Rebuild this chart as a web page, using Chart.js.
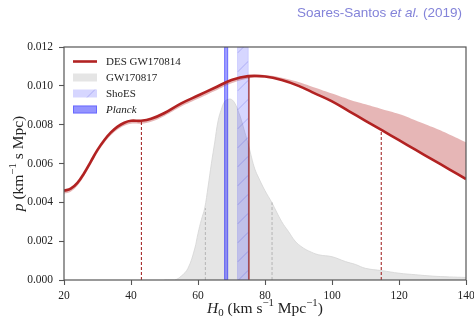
<!DOCTYPE html>
<html>
<head>
<meta charset="utf-8">
<script src="https://cdn.jsdelivr.net/npm/chart.js@4.4.1/dist/chart.umd.min.js"></script>
<style>
  html, body { margin: 0; padding: 0; background: #fff; }
</style>
</head>
<body>
<canvas id="h0Chart" width="474" height="322"></canvas>
<script>
// H0 grid and DES GW170814 posterior (median curve + band)
const h0Grid = [20, 22, 24, 26, 28, 30, 32, 34, 36, 38, 40, 43, 46, 50, 55, 60, 65, 70, 75, 80, 85, 90, 95, 100, 105, 110, 115, 120, 125, 130, 135, 140];
const desMedian = [0.0046, 0.0047, 0.0050, 0.0055, 0.0061, 0.0067, 0.0072, 0.0076, 0.0079, 0.0081, 0.0082, 0.0082, 0.0083, 0.0086, 0.0091, 0.0095, 0.0099, 0.0103, 0.0105, 0.01048, 0.0103, 0.0100, 0.0096, 0.0092, 0.0087, 0.0082, 0.0077, 0.0072, 0.0067, 0.0062, 0.0057, 0.0052];
const desLow = [0.00445, 0.00455, 0.00485, 0.00535, 0.00595, 0.00655, 0.00705, 0.00745, 0.00775, 0.00795, 0.00805, 0.00805, 0.00815, 0.00845, 0.00893, 0.00933, 0.00973, 0.01013, 0.01038, 0.01046, 0.01030, 0.01000, 0.00960, 0.00920, 0.00870, 0.00820, 0.00770, 0.00720, 0.00670, 0.00620, 0.00570, 0.00520];
const desHigh = [0.00462, 0.00472, 0.00502, 0.00552, 0.00612, 0.00672, 0.00722, 0.00762, 0.00792, 0.00812, 0.00822, 0.00822, 0.00832, 0.00862, 0.00912, 0.00952, 0.00992, 0.01032, 0.01052, 0.01056, 0.01042, 0.01020, 0.00990, 0.00960, 0.00930, 0.00905, 0.00880, 0.00855, 0.00822, 0.00788, 0.00750, 0.00710];

// GW170817 posterior
const gwX = [50, 53, 55, 57, 59, 60, 61, 62, 63, 64, 65, 66, 67, 68, 69, 70, 71, 72, 73, 74, 75, 76, 77, 78, 80, 82, 85, 87, 89, 91, 93, 96, 100, 104, 107, 110, 115, 120, 125, 130, 135, 140];
const gwP = [0, 0, 0.0002, 0.0006, 0.0016, 0.0024, 0.0031, 0.0037, 0.0048, 0.0060, 0.0071, 0.0082, 0.0088, 0.0092, 0.0093, 0.0093, 0.0091, 0.0087, 0.0082, 0.0076, 0.0070, 0.0063, 0.0057, 0.0053, 0.0046, 0.0040, 0.0030, 0.0025, 0.0020, 0.0017, 0.0015, 0.0013, 0.0012, 0.00095, 0.0008, 0.0006, 0.00048, 0.00035, 0.00027, 0.0002, 0.00016, 0.00013];

// credible interval markers
const desCredX = [43.1, 114.7];
const desCredTop = [0.0082, 0.0077];
const desPeakX = 75.2;
const desPeakTop = 0.0105;
const gwCredX = [62.2, 82.1];
const gwCredTop = [0.0037, 0.0040];

// other measurements (H0 ranges)
const planckRange = [67.8, 69.0];
const shoesRange = [71.8, 75.0];

const legendLabels = ['DES GW170814', 'GW170817', 'ShoES', 'Planck'];
const xTicks = [20, 40, 60, 80, 100, 120, 140];
const yTicks = [0, 0.002, 0.004, 0.006, 0.008, 0.010, 0.012];

const RED = '#b22222';
const SERIF = '"Liberation Serif", "DejaVu Serif", serif';

const pts = (xs, ys) => xs.map((x, i) => ({ x: x, y: ys[i] }));
const vline = (x, top) => [{ x: x, y: 0 }, { x: x, y: top }];

// draw text made of pieces (italic / sub / sup)
function richWidth(ctx, parts, size) {
    let w = 0;
    parts.forEach(p => {
        const s = (p.sub || p.sup) ? size * 0.7 : size;
        ctx.font = (p.it ? 'italic ' : '') + s + 'px ' + SERIF;
        w += ctx.measureText(p.t).width;
    });
    return w;
}
function drawRich(ctx, parts, x, y, size) {
    let cx = x - richWidth(ctx, parts, size) / 2;
    parts.forEach(p => {
        const s = (p.sub || p.sup) ? size * 0.7 : size;
        ctx.font = (p.it ? 'italic ' : '') + s + 'px ' + SERIF;
        let dy = 0;
        if (p.sub) dy = size * 0.22;
        if (p.sup) dy = -size * 0.42;
        ctx.fillText(p.t, cx, y + dy);
        cx += ctx.measureText(p.t).width;
    });
}

const bandsPlugin = {
    id: 'bands',
    afterDatasetDraw(chart, args) {
        if (args.index !== 0) return;
        const { ctx, chartArea: a, scales: { x } } = chart;
        ctx.save();
        ctx.beginPath();
        ctx.rect(a.left, a.top, a.right - a.left, a.bottom - a.top);
        ctx.clip();
        // ShoES band with hatch
        let x0 = x.getPixelForValue(shoesRange[0]);
        let x1 = x.getPixelForValue(shoesRange[1]);
        ctx.fillStyle = 'rgba(0,0,255,0.16)';
        ctx.fillRect(x0, a.top, x1 - x0, a.bottom - a.top);
        ctx.save();
        ctx.beginPath();
        ctx.rect(x0, a.top, x1 - x0, a.bottom - a.top);
        ctx.clip();
        ctx.strokeStyle = 'rgba(60,60,220,0.35)';
        ctx.lineWidth = 0.8;
        for (let yy = a.bottom + 20; yy > a.top - 20; yy -= 19) {
            ctx.beginPath();
            ctx.moveTo(x0, yy);
            ctx.lineTo(x1, yy - (x1 - x0));
            ctx.stroke();
        }
        ctx.restore();
        ctx.strokeStyle = 'rgba(0,0,255,0.12)';
        ctx.lineWidth = 1;
        ctx.strokeRect(x0, a.top, x1 - x0, a.bottom - a.top);
        // Planck band
        x0 = x.getPixelForValue(planckRange[0]);
        x1 = x.getPixelForValue(planckRange[1]);
        ctx.fillStyle = 'rgba(0,0,255,0.38)';
        ctx.fillRect(x0, a.top, x1 - x0, a.bottom - a.top);
        ctx.strokeStyle = 'rgba(0,0,255,0.3)';
        ctx.strokeRect(x0 + 0.5, a.top, x1 - x0 - 1, a.bottom - a.top);
        ctx.restore();
    }
};

const decorPlugin = {
    id: 'decor',
    afterDraw(chart) {
        const { ctx, chartArea: a } = chart;
        ctx.save();
        // frame
        ctx.strokeStyle = '#555';
        ctx.lineWidth = 1.2;
        ctx.strokeRect(a.left, a.top, a.right - a.left, a.bottom - a.top);

        // legend
        const lx = 73, lw = 24, tx = 106;
        const rows = [61.5, 77.5, 93.5, 109.5];
        ctx.strokeStyle = RED;
        ctx.lineWidth = 2.6;
        ctx.beginPath();
        ctx.moveTo(lx, rows[0]);
        ctx.lineTo(lx + lw, rows[0]);
        ctx.stroke();
        ctx.fillStyle = '#e5e5e5';
        ctx.fillRect(lx, rows[1] - 4, lw, 8);
        ctx.fillStyle = 'rgba(0,0,255,0.16)';
        ctx.fillRect(lx, rows[2] - 4, lw, 8);
        ctx.strokeStyle = 'rgba(60,60,220,0.35)';
        ctx.lineWidth = 0.8;
        ctx.beginPath();
        ctx.moveTo(lx + 14, rows[2] + 4);
        ctx.lineTo(lx + 22, rows[2] - 4);
        ctx.stroke();
        ctx.fillStyle = 'rgba(0,0,255,0.42)';
        ctx.fillRect(lx, rows[3] - 4, lw, 8);
        ctx.strokeStyle = 'rgba(0,0,255,0.3)';
        ctx.lineWidth = 1;
        ctx.strokeRect(lx + 0.5, rows[3] - 3.5, lw - 1, 7);

        ctx.fillStyle = '#222';
        ctx.textBaseline = 'middle';
        ctx.textAlign = 'left';
        legendLabels.forEach((t, i) => {
            ctx.font = (i === 3 ? 'italic ' : '') + '11px ' + SERIF;
            ctx.fillText(t, tx, rows[i] + 0.5);
        });

        // axis titles
        ctx.fillStyle = '#222';
        ctx.textBaseline = 'alphabetic';
        drawRich(ctx, [
            { t: 'H', it: true }, { t: '0', sub: true }, { t: ' (km s' }, { t: '\u22121', sup: true },
            { t: ' Mpc' }, { t: '\u22121', sup: true }, { t: ')' }
        ], (a.left + a.right) / 2, 313, 15.5);
        ctx.save();
        ctx.translate(23, (a.top + a.bottom) / 2);
        ctx.rotate(-Math.PI / 2);
        drawRich(ctx, [
            { t: 'p', it: true }, { t: ' (km' }, { t: '\u22121', sup: true }, { t: ' s Mpc)' }
        ], 0, 0, 15.5);
        ctx.restore();

        // credit
        ctx.fillStyle = '#8383d9';
        const parts = [['Soares-Santos ', ''], ['et al.', 'italic '], [' (2019)', '']];
        let w = 0;
        parts.forEach(p => { ctx.font = p[1] + '13.5px "Liberation Sans", sans-serif'; w += ctx.measureText(p[0]).width; });
        let cx = 462 - w;
        parts.forEach(p => {
            ctx.font = p[1] + '13.5px "Liberation Sans", sans-serif';
            ctx.fillText(p[0], cx, 17);
            cx += ctx.measureText(p[0]).width;
        });
        ctx.restore();
    }
};

const ctx = document.getElementById('h0Chart').getContext('2d');
new Chart(ctx, {
    type: 'line',
    data: {
        datasets: [
            { label: 'GW170817', data: pts(gwX, gwP), fill: 'origin', backgroundColor: '#e5e5e5', borderColor: '#d4d4d4', borderWidth: 0.8, tension: 0.4, order: 9 },
            { label: 'gw lo', data: vline(gwCredX[0], gwCredTop[0]), borderColor: '#b5b5b5', borderWidth: 1, borderDash: [3, 2], order: 8 },
            { label: 'gw hi', data: vline(gwCredX[1], gwCredTop[1]), borderColor: '#b5b5b5', borderWidth: 1, borderDash: [3, 2], order: 8 },
            { label: 'des low', data: pts(h0Grid, desLow), borderWidth: 0, borderColor: 'rgba(0,0,0,0)', fill: false, tension: 0.4, order: 6 },
            { label: 'des high', data: pts(h0Grid, desHigh), borderWidth: 0, borderColor: 'rgba(0,0,0,0)', fill: '-1', backgroundColor: 'rgba(178,34,34,0.33)', tension: 0.4, order: 5 },
            { label: 'des lo', data: vline(desCredX[0], desCredTop[0]), borderColor: '#9b1515', borderWidth: 1, borderDash: [3, 2], order: 3 },
            { label: 'des hi', data: vline(desCredX[1], desCredTop[1]), borderColor: '#9b1515', borderWidth: 1, borderDash: [3, 2], order: 3 },
            { label: 'des peak', data: vline(desPeakX, desPeakTop), borderColor: '#8b0000', borderWidth: 1.1, order: 2 },
            { label: 'DES GW170814', data: pts(h0Grid, desMedian), borderColor: RED, borderWidth: 2.6, fill: false, tension: 0.4, order: 0 }
        ]
    },
    options: {
        responsive: false,
        animation: false,
        devicePixelRatio: 1,
        elements: { point: { radius: 0, hoverRadius: 0 } },
        layout: { padding: { top: 47, right: 8, left: 0, bottom: 0 } },
        plugins: { legend: { display: false }, tooltip: { enabled: false } },
        scales: {
            x: {
                type: 'linear', min: 20, max: 140,
                afterBuildTicks: s => { s.ticks = xTicks.map(v => ({ value: v })); },
                afterFit: s => { s.height = 42; s.paddingLeft = 0; s.paddingRight = 0; },
                grid: { drawOnChartArea: false, drawTicks: true, tickLength: 5, color: '#555', tickWidth: 1.1 },
                border: { display: false },
                ticks: { color: '#222', padding: 4, font: { family: SERIF, size: 11.5 }, maxRotation: 0 }
            },
            y: {
                type: 'linear', min: 0, max: 0.012,
                afterBuildTicks: s => { s.ticks = yTicks.map(v => ({ value: v })); },
                afterFit: s => { s.width = 64; s.paddingTop = 0; s.paddingBottom = 0; },
                grid: { drawOnChartArea: false, drawTicks: true, tickLength: 5, color: '#555', tickWidth: 1.1 },
                border: { display: false },
                ticks: { color: '#222', padding: 6, font: { family: SERIF, size: 11.5 }, callback: v => v.toFixed(3) }
            }
        }
    },
    plugins: [bandsPlugin, decorPlugin]
});
</script>
</body>
</html>
